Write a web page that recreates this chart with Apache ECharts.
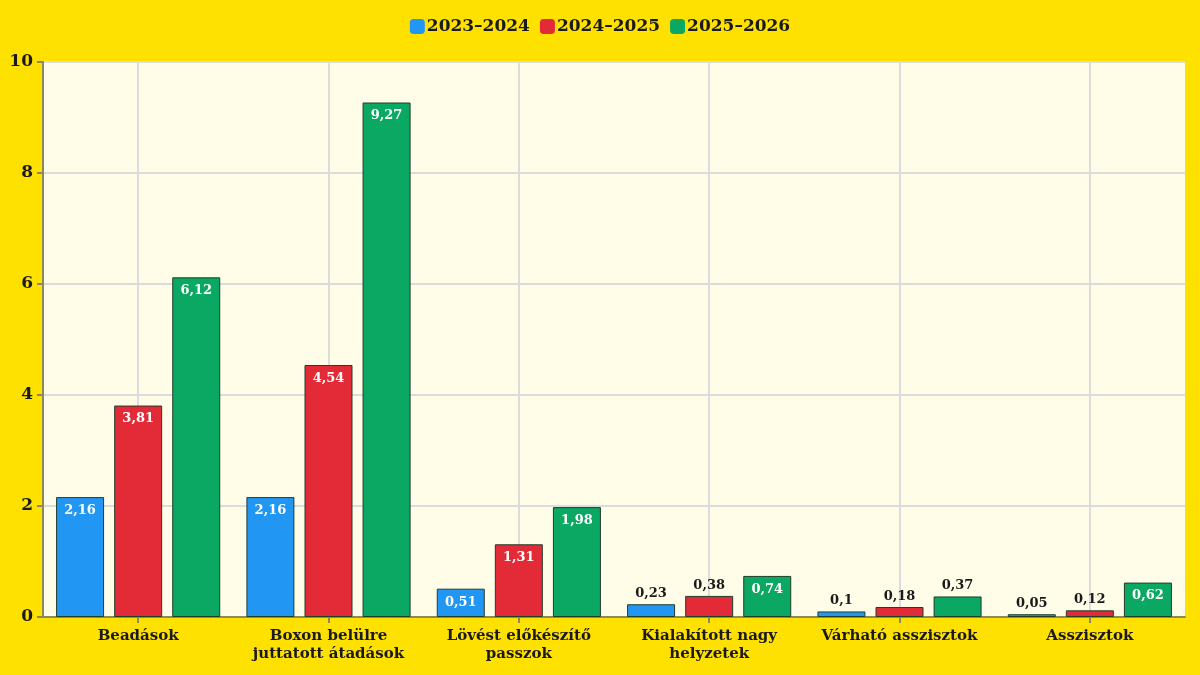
<!DOCTYPE html>
<html><head><meta charset="utf-8">
<script src="https://cdn.jsdelivr.net/npm/echarts@6/dist/echarts.min.js"></script>
<style>html,body{margin:0;padding:0;background:#ffe100;}#c{width:1200px;height:675px;}</style>
</head><body><div id="c"></div>
<script>
const categories = ['Beadások', 'Boxon belülre\njuttatott átadások', 'Lövést előkészítő\npasszok', 'Kialakított nagy\nhelyzetek', 'Várható asszisztok', 'Asszisztok'];
const seriesNames = ['2023–2024', '2024–2025', '2025–2026'];
const s2324 = [2.16, 2.16, 0.51, 0.23, 0.1, 0.05];
const s2425 = [3.81, 4.54, 1.31, 0.38, 0.18, 0.12];
const s2526 = [6.12, 9.27, 1.98, 0.74, 0.37, 0.62];
const yTicks = [0, 2, 4, 6, 8, 10];

const colors = ['#2196f3', '#e32b37', '#0aa862'];
const FONT = 'DejaVu Serif';
const fmt = v => String(v).replace('.', ',');

function mkData(arr) {
  return arr.map(v => {
    const inside = v >= 0.5;
    return {
      value: v,
      label: {
        show: true,
        position: inside ? 'insideTop' : 'top',
        distance: inside ? 7 : 4,
        color: inside ? '#ffffff' : '#1a1a1a',
        fontFamily: FONT, fontWeight: 'bold', fontSize: 13,
        formatter: p => fmt(p.value)
      }
    };
  });
}

const chart = echarts.init(document.getElementById('c'));
chart.setOption({
  backgroundColor: '#ffe100',
  animation: false,
  legend: {
    top: 13, left: 'center',
    itemWidth: 15, itemHeight: 15, itemGap: 10,
    icon: 'roundRect',
    itemStyle: { borderWidth: 0 },
    textStyle: { fontFamily: FONT, fontWeight: 'bold', fontSize: 17, color: '#1a1a1a', padding: [0,0,0,-3] },
    data: seriesNames
  },
  grid: { left: 43, right: 15, top: 62, bottom: 58, show: true, backgroundColor: '#fffde8', borderWidth: 0 },
  xAxis: {
    type: 'category', data: categories,
    axisLine: { lineStyle: { color: '#8c8a5c', width: 2 } },
    axisTick: { show: true, alignWithLabel: true, length: 6, lineStyle: { color: '#8c8a5c', width: 2 } },
    axisLabel: { fontFamily: FONT, fontWeight: 'bold', fontSize: 15, color: '#1a1a1a', lineHeight: 18, margin: 10, interval: 0 },
    splitLine: { show: true, alignWithLabel: true, lineStyle: { color: '#dcdcdc', width: 2 } }
  },
  yAxis: {
    type: 'value', min: yTicks[0], max: yTicks[yTicks.length - 1], interval: 2,
    axisLine: { show: true, lineStyle: { color: '#8c8a5c', width: 2 } },
    axisTick: { show: true, length: 6, lineStyle: { color: '#8c8a5c', width: 2 } },
    axisLabel: { fontFamily: FONT, fontWeight: 'bold', fontSize: 17, color: '#1a1a1a', margin: 10 },
    splitLine: { show: true, lineStyle: { color: '#dcdcdc', width: 2 } }
  },
  series: [s2324, s2425, s2526].map((arr, i) => ({
    name: seriesNames[i], type: 'bar', data: mkData(arr),
    barWidth: 48, barGap: '21%',
    itemStyle: { color: colors[i], borderColor: '#1f3d2c', borderWidth: 1 }
  }))
});
</script></body></html>
